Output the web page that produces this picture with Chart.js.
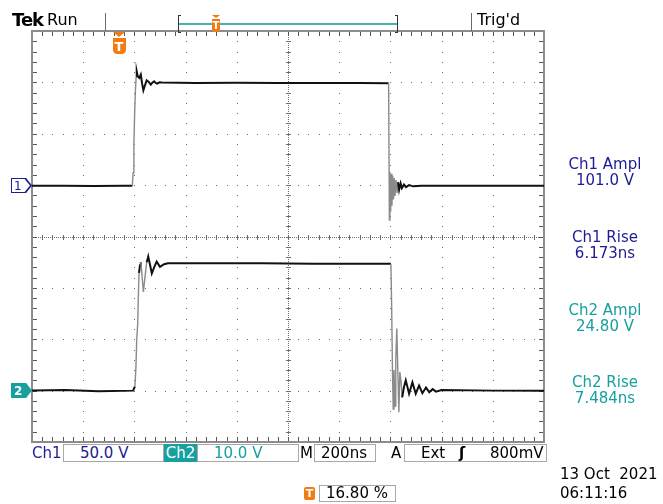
<!DOCTYPE html>
<html>
<head>
<meta charset="utf-8">
<script src="https://cdn.jsdelivr.net/npm/chart.js@4.4.0/dist/chart.umd.min.js"></script>
<style>
  body { margin: 0; background: #fff; }
  #scope { position: relative; width: 663px; height: 504px; overflow: hidden; font-family: "DejaVu Sans", sans-serif; }
  #scope canvas { position: absolute; left: 0; top: 0; }
  .t { position: absolute; white-space: pre; line-height: 1; }
  .box { position: absolute; border: 1px solid #a8a8a8; background: #fff; box-sizing: border-box; }
  .ln { position: absolute; background: #6a6a6a; }
</style>
</head>
<body>
<div id="scope"><canvas id="scopeChart" width="663" height="504"></canvas></div>
<script>
// time in ns from the left edge of the screen (200 ns/div, 10 div)
const ch1Time = [0, 120, 240, 360, 392, 395, 398, 401, 404, 407, 409, 413, 419, 425, 430, 435, 441, 448, 456, 464, 471, 477, 483, 489, 498, 507, 640, 800, 960, 1120, 1280, 1393, 1396, 1398, 1401, 1403, 1406, 1409, 1412, 1415, 1418, 1422, 1426, 1430, 1434, 1440, 1445, 1453, 1461, 1473, 1489, 1520, 1640, 1800, 2000];
const ch1Volts = [-0.7, -0.6, -0.8, -0.6, -0.7, 12, 40, 70, 92, 106, 110.8, 106, 104.3, 107.6, 99, 92.2, 97, 102, 100.5, 97.8, 100, 101, 99.5, 98.8, 100, 99.8, 99.5, 99.6, 99.4, 99.5, 99.4, 99.2, -34, 12.9, -26, 11, -20, 9, -14, 7, -10.5, 5, -7.5, 3, -4.6, 1.7, -3, 0.5, -2, 0, -1.2, -0.5, -0.7, -0.6, -0.7];

const ch2Time = [0, 130, 260, 395, 402, 406, 409, 413, 415, 418, 422, 425, 428, 432, 435, 440, 448, 454, 461, 468, 477, 487, 500, 516, 531, 700, 900, 1100, 1300, 1402, 1405, 1408, 1411, 1414, 1418, 1421, 1425, 1429, 1433, 1437, 1441, 1446, 1453, 1460, 1473, 1486, 1499, 1512, 1525, 1539, 1552, 1565, 1578, 1600, 1800, 2000];
const ch2Volts = [0, 0.1, -0.1, 0, 0.8, 4.6, 9.8, 13.1, 17.6, 22.9, 24.4, 25, 23.5, 21, 19.2, 21.5, 25, 26.1, 24.5, 22.8, 24, 25.1, 24.1, 24.6, 24.8, 24.8, 24.8, 24.7, 24.7, 24.7, 16, 4, -3.6, 4, -3, 6, 12.1, 4, -4.2, 3.6, 2, -1.3, 0.7, 2, -0.6, 1.6, -0.6, 1, -0.5, 0.6, -0.3, 0.3, -0.2, 0.1, 0, 0];

const measureNames = ["Ch1 Ampl", "Ch1 Rise", "Ch2 Ampl", "Ch2 Rise"];
const measureValues = ["101.0 V", "6.173ns", "24.80 V", "7.484ns"];

const CH1_BLUE = "#1c1c94";
const CH2_TEAL = "#16a0a0";
const ORANGE = "#f27b12";

const scope = document.getElementById("scope");

function addText(txt, x, base, size, color, align, weight) {
  const el = document.createElement("div");
  el.className = "t";
  el.textContent = txt;
  el.style.fontSize = size + "px";
  el.style.top = base - 0.846 * size + "px";
  el.style.left = x + "px";
  el.style.color = color || "#000";
  if (weight) el.style.fontWeight = weight;
  if (align === "center") el.style.transform = "translateX(-50%)";
  if (align === "right") el.style.transform = "translateX(-100%)";
  scope.appendChild(el);
  return el;
}

function addBlock(cls, x, y, w, h, bg) {
  const el = document.createElement("div");
  el.className = cls;
  el.style.left = x + "px";
  el.style.top = y + "px";
  el.style.width = w + "px";
  el.style.height = h + "px";
  if (bg) el.style.background = bg;
  scope.appendChild(el);
  return el;
}

// orange trigger "T" flag
function triggerFlag(cx, top, w, h, fs) {
  const tri = addBlock("ln", cx - w / 2, top, 0, 0, "transparent");
  tri.style.borderLeft = w / 2 + "px solid transparent";
  tri.style.borderRight = w / 2 + "px solid transparent";
  tri.style.borderTop = Math.round(w * 0.4) + "px solid " + ORANGE;
  const body = addBlock("ln", cx - w / 2, top + Math.round(w * 0.4) + 1, w, h, ORANGE);
  body.style.borderRadius = "0 0 " + w / 3 + "px " + w / 3 + "px";
  const t = addText("T", cx, top + Math.round(w * 0.4) + 1 + h * 0.5 + fs * 0.36, fs, "#fff", "center", "bold");
  return t;
}

// graticule: dotted divisions, centre cross and tick frame
const graticule = {
  id: "graticule",
  beforeDatasetsDraw(chart) {
    const { ctx, chartArea: a, scales } = chart;
    const colX = [];
    const rowY = [];
    for (let i = 0; i <= 50; i++) colX.push(Math.round(scales.x.getPixelForValue(i * 40)));
    for (let j = 0; j <= 40; j++) rowY.push(Math.round(scales.y1.getPixelForValue(-250 + j * 10)));
    ctx.save();
    ctx.fillStyle = "#6e6e6e";
    for (let i = 5; i < 50; i += 5) {
      if (i === 25) continue;
      for (let j = 1; j < 40; j++) ctx.fillRect(colX[i], rowY[j], 1, 1);
    }
    for (let j = 5; j < 40; j += 5) {
      if (j === 20) continue;
      for (let i = 1; i < 50; i++) ctx.fillRect(colX[i], rowY[j], 1, 1);
    }
    const cx = colX[25];
    const cy = rowY[20];
    for (let y = a.top; y < a.bottom; y += 2) ctx.fillRect(cx, Math.round(y), 1, 1);
    for (let x = a.left; x < a.right; x += 2) ctx.fillRect(Math.round(x), cy, 1, 1);
    for (let j = 1; j < 40; j++) ctx.fillRect(cx - 2, rowY[j], 5, 1);
    for (let i = 1; i < 50; i++) ctx.fillRect(colX[i], cy - 2, 1, 5);

    ctx.fillStyle = "#555";
    for (let i = 1; i < 50; i++) {
      ctx.fillRect(colX[i], a.top, 1, 5);
      ctx.fillRect(colX[i], a.bottom - 5, 1, 5);
    }
    for (let j = 1; j < 40; j++) {
      ctx.fillRect(a.left, rowY[j], 5, 1);
      ctx.fillRect(a.right - 5, rowY[j], 5, 1);
    }
    ctx.strokeStyle = "#8c8c8c";
    ctx.lineWidth = 2;
    ctx.strokeRect(a.left, a.top, a.right - a.left, a.bottom - a.top);
    ctx.restore();
  },
};

// fast edges show up dimmer on the scope screen
function steep(c) {
  return Math.abs(c.p1.y - c.p0.y) > 4 * Math.abs(c.p1.x - c.p0.x) + 4;
}

function trace(label, times, volts, axis) {
  return {
    label: label,
    data: times.map((t, i) => ({ x: t, y: volts[i] })),
    yAxisID: axis,
    borderColor: "#111",
    borderWidth: 2,
    pointRadius: 0,
    tension: 0,
    segment: {
      borderColor: (c) => (steep(c) ? "#8a8a8a" : undefined),
      borderWidth: (c) => (steep(c) ? 1.4 : undefined),
    },
  };
}

const ctx = document.getElementById("scopeChart").getContext("2d");
new Chart(ctx, {
  type: "line",
  data: {
    datasets: [trace("Ch1", ch1Time, ch1Volts, "y1"), trace("Ch2", ch2Time, ch2Volts, "y2")],
  },
  options: {
    responsive: false,
    animation: false,
    layout: { padding: { left: 32, right: 119, top: 31, bottom: 62 } },
    plugins: { legend: { display: false }, tooltip: { enabled: false } },
    scales: {
      x: { type: "linear", min: 0, max: 2000, display: false },
      // Ch1 50 V/div, ground one division above centre
      y1: { type: "linear", min: -250, max: 150, display: false },
      // Ch2 10 V/div, ground three divisions below centre
      y2: { type: "linear", min: -10, max: 70, display: false },
    },
  },
  plugins: [graticule],
});

// top status bar
addText("Tek", 12, 26, 18, "#000", "left", "bold").style.letterSpacing = "-1px";
addText("Run", 47, 26, 16);
addBlock("ln", 105, 13, 1, 18);
addBlock("ln", 471, 13, 1, 18);
addText("Trig'd", 477, 26, 16);
addBlock("ln", 178, 15, 1, 18, "#333");
addBlock("ln", 178, 15, 3, 1, "#333");
addBlock("ln", 178, 32, 3, 1, "#333");
addBlock("ln", 397, 15, 1, 18, "#333");
addBlock("ln", 395, 15, 3, 1, "#333");
addBlock("ln", 395, 32, 3, 1, "#333");
addBlock("ln", 179, 23, 218, 2, "#49b2b2");
triggerFlag(216, 15, 8, 13, 10);

// trigger position on the graticule (16.80 %)
triggerFlag(119, 32, 13, 16, 13);

// channel ground markers
const m1 = addBlock("ln", 11, 178, 21, 15, CH1_BLUE);
m1.style.clipPath = "polygon(0 0, 72% 0, 100% 50%, 72% 100%, 0 100%)";
const m1in = addBlock("ln", 12, 179, 18, 13, "#fff");
m1in.style.clipPath = "polygon(0 0, 70% 0, 100% 50%, 70% 100%, 0 100%)";
addText("1", 14, 190, 12, CH1_BLUE);
const m2 = addBlock("ln", 11, 383, 21, 15, CH2_TEAL);
m2.style.clipPath = "polygon(0 0, 72% 0, 100% 50%, 72% 100%, 0 100%)";
addText("2", 14, 395, 12, "#fff", "left", "bold");

// measurement readouts
const readBase = [169.5, 242.5, 315.5, 387.5];
measureNames.forEach((name, i) => {
  const col = i < 2 ? CH1_BLUE : CH2_TEAL;
  addText(name, 605, readBase[i], 15, col, "center");
  addText(measureValues[i], 605, readBase[i] + 16.5, 15, col, "center");
});

// bottom settings bar
addText("Ch1", 32, 459, 15, CH1_BLUE);
addBlock("box", 63, 444, 101, 18);
addText("50.0 V", 80, 459, 15, CH1_BLUE);
addBlock("ln", 164, 444, 33, 18, CH2_TEAL);
addText("Ch2", 180.5, 459, 15, "#fff", "center");
addBlock("box", 197, 444, 102, 18);
addText("10.0 V", 214, 459, 15, CH2_TEAL);
addText("M", 300, 459, 15);
addBlock("box", 314, 444, 62, 18);
addText("200ns", 321, 459, 15);
addText("A", 391, 459, 15);
addBlock("box", 404, 444, 143, 18);
addText("Ext", 421, 459, 15);
addText("\u0283", 459, 459, 15, "#000", "left", "bold");
addText("800mV", 490, 459, 15);

addText("13 Oct  2021", 560, 479.5, 15);
addText("06:11:16", 560, 498.5, 15);

const tBox = addBlock("ln", 304, 487, 11, 13, ORANGE);
tBox.style.borderRadius = "2px";
addText("T", 309.5, 497.5, 11, "#fff", "center", "bold");
addBlock("box", 319, 485, 77, 17);
addText("16.80 %", 326, 498.5, 15);
</script>
</body>
</html>
